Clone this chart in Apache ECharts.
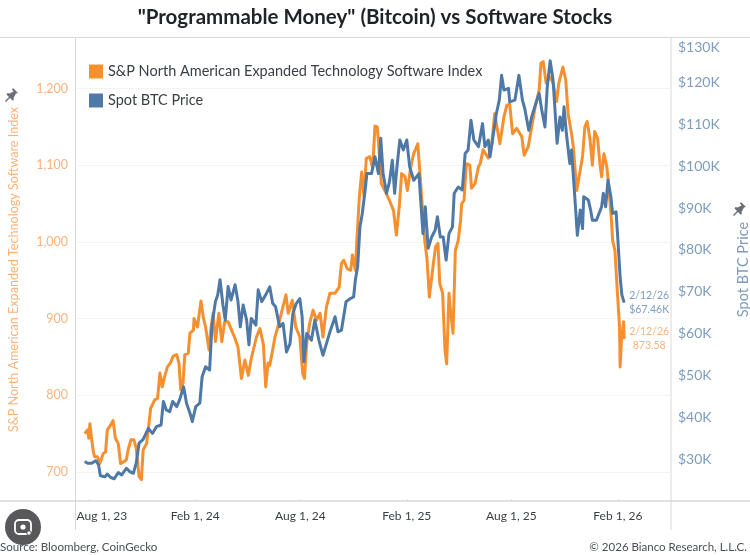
<!DOCTYPE html>
<html>
<head>
<meta charset="utf-8">
<style>html,body{margin:0;padding:0;background:#fff}#chart{width:750px;height:555px}</style>
<script src="https://cdn.jsdelivr.net/npm/echarts@6/dist/echarts.min.js"></script>
</head>
<body>
<div id="chart"></div>
<script>
// Days are counted from Aug 1, 2023.
const softwareDays = [-7,-2,0,2,5,8,10,15,19,25,29,32,36,42,46,51,55,60,65,68,73,78,82,87,91,94,100,104,107,114,119,123,127,131,136,141,146,152,156,159,163,166,172,175,181,182,188,194,198,202,208,211,215,219,225,230,235,241,247,253,258,264,270,276,281,290,296,302,306,310,313,318,322,327,333,341,345,352,358,365,370,373,377,382,388,394,400,405,411,417,426,433,437,441,447,453,456,461,464,468,472,476,480,486,491,495,499,502,506,512,520,527,532,537,541,547,551,557,562,569,574,581,585,589,592,596,600,604,607,612,616,619,623,626,630,634,639,643,645,649,653,659,662,668,674,677,682,691,697,702,711,718,723,728,733,740,749,753,760,764,772,779,782,786,791,798,803,809,813,820,825,829,835,838,844,848,854,858,862,867,871,875,880,884,887,891,896,899,904,906,910,913,918,919,921,925,926];
const softwareValues = [750,755,744,763,742,726,720,720,711,724,726,755,759,767,744,737,711,713,716,729,742,742,731,694,690,729,737,763,783,794,796,829,811,824,837,842,851,853,842,807,816,853,855,881,885,900,889,923,902,889,859,885,907,870,907,870,896,896,885,874,863,822,846,826,848,876,887,866,811,842,839,859,876,889,907,931,907,924,889,876,828,822,868,894,911,898,907,876,915,933,933,941,972,976,965,963,983,963,1007,1059,1091,1059,1109,1111,1096,1151,1150,1120,1076,1067,1054,1041,1009,1046,1089,1085,1067,1098,1115,1128,1076,1002,978,928,926,972,994,998,946,933,859,841,933,907,881,989,1002,1028,1050,1054,1102,1100,1070,1076,1098,1102,1120,1109,1128,1167,1128,1163,1178,1180,1141,1148,1137,1113,1124,1141,1176,1198,1233,1235,1207,1215,1207,1183,1207,1228,1211,1167,1141,1124,1067,1085,1111,1150,1157,1133,1100,1144,1135,1102,1085,1115,1098,1076,1028,1002,989,950,889,837,868,896,873.58];

const btcDays = [-7,-2,5,12,17,20,28,32,38,44,51,57,65,71,77,82,87,94,103,110,117,125,129,134,140,145,152,157,164,169,175,179,185,192,196,202,209,213,219,223,227,232,236,241,246,253,258,262,267,273,277,281,289,293,299,306,313,318,323,330,336,342,348,353,359,365,369,372,377,385,391,398,405,411,418,426,431,437,445,452,458,461,465,469,473,478,481,489,495,501,505,509,515,520,525,529,533,538,544,550,555,562,571,576,578,582,587,593,599,603,608,613,618,623,629,632,639,646,651,656,661,666,674,681,685,691,694,700,705,710,714,718,726,728,737,744,750,754,761,766,775,779,783,789,793,798,803,806,810,815,819,822,826,832,835,841,845,850,854,856,864,868,871,878,887,890,894,898,903,906,912,915,919,922,925,926];
const btcValues = [29.6,29.2,29.2,29.8,28.8,26.2,26.0,26.6,25.8,25.5,27.0,26.4,28.0,27.2,26.8,29.2,34.0,34.9,37.5,36.3,37.9,38.3,43.9,41.9,41.5,43.9,42.7,44.3,47.4,43.5,41.1,39.1,42.7,43.5,49.8,52.2,51.4,62.1,67.7,69.3,72.9,66.9,63.3,71.3,68.1,71.7,67.7,61.7,66.9,63.3,57.4,63.7,62.1,70.5,67.7,69.3,71.2,67.3,66.5,61.7,62.5,55.7,57.7,64.9,67.3,68.4,64.1,53.4,60.1,58.5,63.3,58.5,54.9,57.7,60.9,64.1,60.5,60.9,67.7,68.4,68.8,72.8,76.0,85.5,88.7,94.3,98.2,98.2,102.2,98.2,106.6,98.2,93.5,96.2,101.4,93.5,99.8,106.2,103.8,106.2,99.8,96.6,98.2,87.9,83.9,90.3,80.4,83.1,84.7,87.9,83.1,83.1,77.6,83.9,85.5,93.5,95.0,94.3,103.0,103.8,110.9,106.2,104.6,110.1,104.6,106.2,102.2,107.8,112.5,115.7,121.6,118.1,118.5,115.3,115.7,121.6,115.7,113.7,108.5,111.7,115.7,117.3,113.7,109.3,118.9,125.1,120.5,114.1,105.4,111.7,108.5,114.1,107.8,100.6,103.8,91.9,83.5,89.5,85.1,92.7,91.9,89.5,87.1,87.1,90.3,93.5,90.3,96.6,92.7,88.7,89.1,82.7,73.6,69.3,69.3,67.46];

const softwareTicks = [700,800,900,1000,1100,1200];
const btcTicks = [30,40,50,60,70,80,90,100,110,120,130];
const dateTicks = [0,184,366,550,731,915];
const dateLabels = ['Aug 1, 23','Feb 1, 24','Aug 1, 24','Feb 1, 25','Aug 1, 25','Feb 1, 26'];

const softwareName = 'S&P North American Expanded Technology Software Index';
const btcName = 'Spot BTC Price';
const lastDate = '2/12/26';

const ORANGE = '#F68F2E';
const BLUE = '#4E79A7';
const ORANGE_TEXT = '#FAB27C';
const BLUE_TEXT = '#7E9CC0';
const FRAME = '#D9D9D9';
const FONT = 'Lato';

const pair = (days, values) => days.map((d, i) => [d, values[i]]);

// Tilted pushpin glyph placed beside each axis title
const pin = (cx, cy) => ({
  type: 'polygon',
  x: cx, y: cy,
  shape: {points: [[1,-7],[6,-2],[4,-1.5],[1.5,3],[2,5],[0.5,5.5],[-2,3],[-6,7],[-7,6],[-3,2],[-5.5,-0.5],[-4.5,-2],[-2.5,-1.5],[1.5,-3.5],[0,-5.5]]},
  style: {fill: '#6B7078'}
});

const chart = echarts.init(document.getElementById('chart'), null, {renderer: 'canvas'});
chart.setOption({
  animation: false,
  backgroundColor: '#fff',
  textStyle: {fontFamily: FONT},
  title: {
    text: '"Programmable Money" (Bitcoin) vs Software Stocks',
    left: 'center', top: 2,
    textStyle: {fontFamily: FONT, fontSize: 20.5, fontWeight: 'bold', color: '#1F2328'}
  },
  legend: {
    orient: 'vertical', left: 84, top: 59, itemGap: 14,
    itemWidth: 14, itemHeight: 14, icon: 'rect', selectedMode: false,
    textStyle: {fontFamily: FONT, fontSize: 14.5, color: '#3A3F45'},
    data: [softwareName, btcName]
  },
  // The plot keeps its exact box; axis text sits in the margins around it.
  grid: {left: 75.5, right: 79, top: 38, bottom: 54, outerBoundsMode: 'none'},
  xAxis: {
    type: 'value', min: -23, max: 1007, splitLine: {show: false},
    axisLine: {show: false},
    axisTick: {show: true, inside: true, length: 2, lineStyle: {color: '#DDDDDD'}, customValues: dateTicks},
    axisLabel: {
      customValues: dateTicks, margin: 9, fontSize: 12, color: '#3A3F45',
      formatter: v => {
        const t = dateLabels[dateTicks.indexOf(v)];
        return v === dateTicks[0] ? '{first|' + t + '}' : t;
      },
      rich: {first: {fontSize: 12, color: '#3A3F45', padding: [0, 0, 0, 26]}}
    }
  },
  yAxis: [{
    type: 'value', min: 662.2, max: 1265.8, position: 'left',
    name: softwareName, nameLocation: 'middle', nameGap: 55,
    nameTextStyle: {fontSize: 12.6, color: ORANGE_TEXT},
    axisLine: {show: false}, axisTick: {show: false, customValues: softwareTicks},
    splitLine: {show: true, lineStyle: {color: '#F3F3F3', width: 1}},
    axisLabel: {
      customValues: softwareTicks, margin: 7.5, fontSize: 12.5, color: ORANGE_TEXT,
      formatter: v => v.toLocaleString('en-US')
    }
  }, {
    type: 'value', min: 20.2, max: 130.5, position: 'right',
    name: btcName, nameLocation: 'middle', nameGap: 65,
    nameRotate: 90,
    nameTextStyle: {fontSize: 14.5, color: BLUE_TEXT},
    axisLine: {show: false}, axisTick: {show: false, customValues: btcTicks},
    splitLine: {show: false},
    axisLabel: {
      customValues: btcTicks, margin: 7, fontSize: 14, color: BLUE_TEXT,
      verticalAlignMaxLabel: 'top',
      formatter: v => '$' + v + 'K'
    }
  }],
  series: [{
    name: softwareName, type: 'line', yAxisIndex: 0, symbol: 'none',
    color: ORANGE, lineStyle: {width: 3, join: 'round'},
    data: pair(softwareDays, softwareValues),
    endLabel: {
      show: true, fontSize: 10.5, lineHeight: 14, color: ORANGE_TEXT, align: 'center',
      offset: [17, 0],
      formatter: p => lastDate + '\n' + p.value[1]
    }
  }, {
    name: btcName, type: 'line', yAxisIndex: 1, symbol: 'none', z: 3,
    color: BLUE, lineStyle: {width: 3, join: 'round'},
    data: pair(btcDays, btcValues),
    endLabel: {
      show: true, fontSize: 10.5, lineHeight: 14, color: BLUE_TEXT, align: 'center',
      offset: [17, 0],
      formatter: p => lastDate + '\n$' + p.value[1] + 'K'
    }
  }],
  graphic: [
    // Chart frame
    {type: 'line', shape: {x1: 0, y1: 37.5, x2: 750, y2: 37.5}, style: {stroke: FRAME, lineWidth: 1}},
    {type: 'line', shape: {x1: 0, y1: 501, x2: 750, y2: 501}, style: {stroke: FRAME, lineWidth: 1.5}},
    {type: 'line', shape: {x1: 75.5, y1: 38, x2: 75.5, y2: 530}, style: {stroke: FRAME, lineWidth: 1}},
    {type: 'line', shape: {x1: 671, y1: 38, x2: 671, y2: 530}, style: {stroke: FRAME, lineWidth: 1}},
    // Footer
    {type: 'text', left: 0, top: 541, style: {text: 'Source: Bloomberg, CoinGecko', fontFamily: FONT, fontSize: 11.6, fill: '#4A4F55'}},
    {type: 'text', right: 3, top: 541, style: {text: '\u00A9 2026 Bianco Research, L.L.C.', fontFamily: FONT, fontSize: 11.5, fill: '#4A4F55'}},
    // Axis pins
    pin(12, 95),
    pin(740, 209),
    // Image search badge
    {type: 'circle', shape: {cx: 23, cy: 527, r: 18}, style: {fill: '#58585A'}},
    {type: 'rect', shape: {x: 15, y: 520, width: 16, height: 14, r: 4}, style: {fill: 'none', stroke: '#fff', lineWidth: 1.8}},
    {type: 'circle', shape: {cx: 23, cy: 527, r: 2.6}, style: {fill: '#fff'}},
    {type: 'circle', shape: {cx: 29, cy: 533, r: 2.2}, style: {fill: '#fff', stroke: '#58585A', lineWidth: 1}}
  ]
});
</script>
</body>
</html>
